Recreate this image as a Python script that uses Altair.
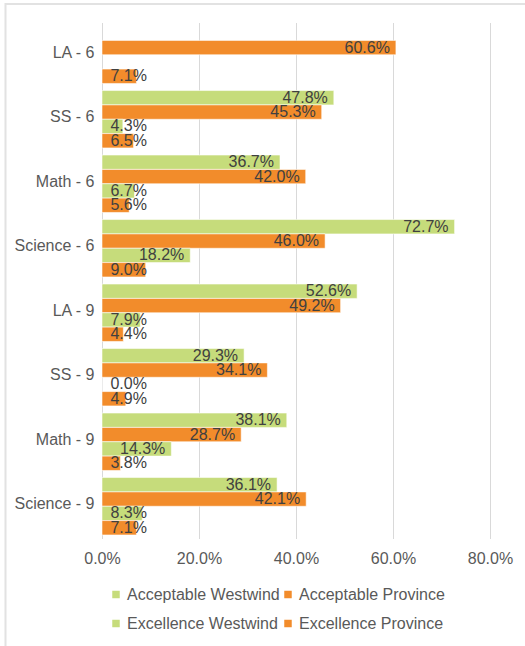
import altair as alt
import pandas as pd

categories = ["LA - 6", "SS - 6", "Math - 6", "Science - 6", "LA - 9", "SS - 9", "Math - 9", "Science - 9"]
series = ["Acceptable Westwind", "Acceptable Province", "Excellence Westwind", "Excellence Province"]
acceptable_westwind = [None, 47.8, 36.7, 72.7, 52.6, 29.3, 38.1, 36.1]
acceptable_province = [60.6, 45.3, 42.0, 46.0, 49.2, 34.1, 28.7, 42.1]
excellence_westwind = [None, 4.3, 6.7, 18.2, 7.9, 0.0, 14.3, 8.3]
excellence_province = [7.1, 6.5, 5.6, 9.0, 4.4, 4.9, 3.8, 7.1]
colors = ["#C6DC7B", "#F28C2B", "#C6DC7B", "#F28C2B"]

rows = []
for s, vals in zip(series, [acceptable_westwind, acceptable_province, excellence_westwind, excellence_province]):
    for c, v in zip(categories, vals):
        if v is not None:
            rows.append({"category": c, "series": s, "value": v / 100.0})
df = pd.DataFrame(rows)

FONT = "Liberation Sans"

y_enc = alt.Y("category:N", sort=categories, title=None,
              scale=alt.Scale(paddingInner=0.11, paddingOuter=0.055),
              axis=alt.Axis(ticks=False, domain=False, labelFontSize=16, labelFont=FONT,
                            labelColor="#595959", labelPadding=8, labelBaseline="middle", labelOffset=-2))
yoff = alt.YOffset("series:N", sort=series, scale=alt.Scale(domain=series, paddingInner=0, paddingOuter=0))

base = alt.Chart(df)

bars = base.mark_bar(stroke="white", strokeWidth=0.8, strokeOpacity=0.7).encode(
    x=alt.X("value:Q", title=None,
            scale=alt.Scale(domain=[0, 0.8], nice=False),
            axis=alt.Axis(format=".1%", values=[0, 0.2, 0.4, 0.6, 0.8], ticks=False, domain=False,
                          grid=True, gridColor="#D9D9D9", gridWidth=1, labelFlush=False,
                          labelFontSize=16, labelFont=FONT, labelColor="#595959", labelPadding=12)),
    y=y_enc,
    yOffset=yoff,
    color=alt.Color("series:N", sort=series,
                    scale=alt.Scale(domain=series, range=colors),
                    legend=alt.Legend(title=None, orient="none", legendX=6, legendY=564,
                                      columns=2, direction="horizontal", symbolType="square",
                                      symbolSize=56, symbolStrokeWidth=0, labelFontSize=16,
                                      labelFont=FONT, labelColor="#595959", labelOffset=3,
                                      rowPadding=13, columnPadding=-21, padding=0)),
)

labels = base.transform_calculate(
    lx="max(datum.value, 0.105)",
    txt="format(datum.value, '.1%')",
).mark_text(align="right", baseline="middle", dx=-6, fontSize=16, font=FONT, color="#404040").encode(
    x=alt.X("lx:Q"),
    y=alt.Y("category:N", sort=categories),
    yOffset=yoff,
    text="txt:N",
)

frame_data = alt.Data(values=[{"k": 1}])
top_line = alt.Chart(frame_data).mark_rule(color="#E2E2E2", strokeWidth=2).encode(
    x=alt.value(-97), x2=alt.value(440), y=alt.value(-18.5))
left_line = alt.Chart(frame_data).mark_rule(color="#E2E2E2", strokeWidth=2).encode(
    x=alt.value(-96.5), y=alt.value(-19.5), y2=alt.value(640))

chart = alt.layer(bars, labels, top_line, left_line).properties(
    width=388, height=516,
    autosize=alt.AutoSizeParams(type="none"),
    padding={"left": 102, "top": 22.5, "right": 35, "bottom": 107.5},
    background="white",
).configure_view(stroke=None)

chart.save("out.html", embed_options={"renderer": "svg", "actions": False})
